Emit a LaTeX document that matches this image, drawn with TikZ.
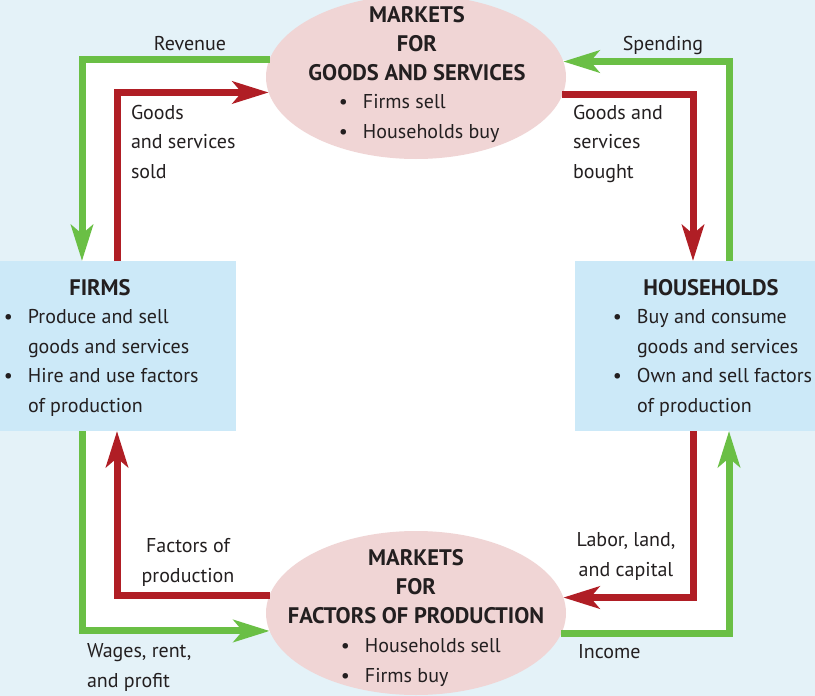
\documentclass[tikz,border=0pt]{standalone}
\usepackage{fontspec}
\setmainfont{PT Sans}
\usetikzlibrary{positioning,shapes.geometric,arrows.meta}
\definecolor{flowgreen}{HTML}{6ABF45}
\definecolor{flowred}{HTML}{B01E25}
\definecolor{mktpink}{HTML}{F0D5D5}
\definecolor{boxblue}{HTML}{CCE9F8}
\definecolor{pageblue}{HTML}{E4F2F8}
\definecolor{inktext}{HTML}{231F20}
\tikzset{market/.style={ellipse,fill=mktpink,minimum width=300pt,minimum height=164pt,inner sep=0pt,outer sep=0pt}}
\tikzset{sector/.style={rectangle,fill=boxblue,minimum height=170pt,inner sep=0pt,outer sep=0pt}}
\tikzset{flow/.style={line width=7pt,-{Stealth[length=36pt,width=22pt,inset=9pt]}}}
\tikzset{greenflow/.style={flow,draw=flowgreen}}
\tikzset{redflow/.style={flow,draw=flowred}}
\tikzset{lbl/.style={inner sep=0pt,outer sep=0pt,align=left,text=inktext}}
\tikzset{head/.style={lbl,align=center,font=\fontsize{22.5}{29}\selectfont\bfseries}}
\newcommand{\bul}{\llap{\textbullet\hspace{15pt}}}

\begin{document}
\begin{tikzpicture}[x=1pt,y=-1pt,font=\fontsize{20}{29.5}\selectfont]
    \fill[pageblue] (0,0) rectangle (815,696);
    \useasboundingbox (0,0) rectangle (815,696);
    \fill[white] (82,60) rectangle (729,632);
    % markets and sectors
    \node[market] (mktgoods) at (416,77) {};
    \node[market] (mktfactors) at (416,613) {};
    \node[sector,minimum width=236pt] (firms) at (118,346) {};
    \node[sector,minimum width=240pt] (households) at (695,346) {};
    \coordinate (greenL) at (82,0);
    \coordinate (redL) at (117,0);
    \coordinate (redR) at (693,0);
    \coordinate (greenR) at (729,0);
    % texts in the markets (base = last line)
    \node[head,anchor=base] (goodstitle) at (417,80) {MARKETS\\FOR\\GOODS AND SERVICES};
    \node[lbl,anchor=base west] (goodslist) at (363,138) {\bul Firms sell\\\bul Households buy};
    \node[head,anchor=base] (factortitle) at (416,623) {MARKETS\\FOR\\FACTORS OF PRODUCTION};
    \node[lbl,anchor=base west] (factorlist) at (365,682) {\bul Households sell\\\bul Firms buy};
    % texts in the sectors
    \node[head,anchor=base] (firmstitle) at (100,295) {FIRMS};
    \node[lbl,anchor=base west] (firmslist) at (28,412) {\bul Produce and sell\\goods and services\\\bul Hire and use factors\\of production};
    \node[head,anchor=base] (hhtitle) at (711,295) {HOUSEHOLDS};
    \node[lbl,anchor=base west] (hhlist) at (637,412) {\bul Buy and consume\\goods and services\\\bul Own and sell factors\\of production};
    % flows
    \draw[greenflow] (mktgoods.173.4) -| (firms.north -| greenL);
    \draw[redflow] (firms.north -| redL) |- (mktgoods.186.6);
    \draw[greenflow] (households.north -| greenR) |- (mktgoods.6.6);
    \draw[redflow] (mktgoods.353.4) -| (households.north -| redR);
    \draw[redflow] (mktfactors.173.8) -| (firms.south -| redL);
    \draw[greenflow] (firms.south -| greenL) |- (mktfactors.187.4);
    \draw[redflow] (households.south -| redR) |- (mktfactors.6.2);
    \draw[greenflow] (mktfactors.352.6) -| (households.south -| greenR);
    % flow labels
    \node[lbl,anchor=base] (revenue) at (190,50) {Revenue};
    \node[lbl,anchor=base] (spending) at (663,50) {Spending};
    \node[lbl,anchor=base west] (goodssold) at (131,178) {Goods\\and services\\sold};
    \node[lbl,anchor=base west] (goodsbought) at (573,178) {Goods and\\services\\bought};
    \node[lbl,align=center,anchor=base] (factorsin) at (188,582) {Factors of\\production};
    \node[lbl,anchor=base west] (wages) at (87,687) {Wages, rent,\\and profit};
    \node[lbl,align=center,anchor=base] (labor) at (626,576) {Labor, land,\\and capital};
    \node[lbl,anchor=base west] (income) at (578,658) {Income};
\end{tikzpicture}
\end{document}
